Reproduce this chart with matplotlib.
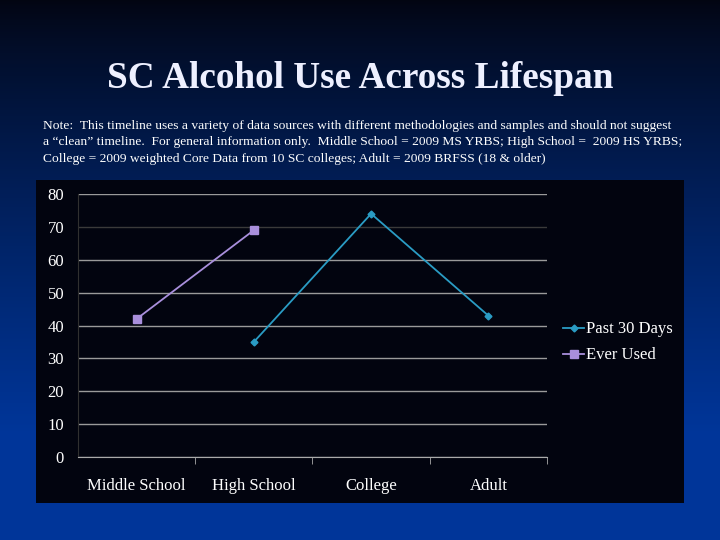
import numpy as np
import matplotlib.pyplot as plt
from matplotlib.patches import Rectangle

# data
categories = ['Middle School', 'High School', 'College', 'Adult']
past_30_days = [np.nan, 35, 74, 43]
ever_used = [42, 69, np.nan, np.nan]
y_ticks = [0, 10, 20, 30, 40, 50, 60, 70, 80]

title = 'SC Alcohol Use Across Lifespan'
note = ('Note:  This timeline uses a variety of data sources with different methodologies and samples and should not suggest\n'
        'a \u201cclean\u201d timeline.  For general information only.  Middle School = 2009 MS YRBS; High School =  2009 HS YRBS;\n'
        'College = 2009 weighted Core Data from 10 SC colleges; Adult = 2009 BRFSS (18 & older)')

serif = ['Liberation Serif', 'DejaVu Serif']
teal = '#2a9cc4'
lavender = '#a98fdc'

fig = plt.figure(figsize=(7.2, 5.4), dpi=100)

# slide background: dark navy at top fading to blue at bottom
bg = fig.add_axes([0, 0, 1, 1], zorder=-10)
t = np.linspace(0, 1, 256).reshape(-1, 1)
top = np.array([0.01, 0.02, 0.07])
bottom = np.array([0.0, 0.21, 0.60])
grad = top + (bottom - top) * np.clip(t * 1.25, 0, 1) ** 0.8
bg.imshow(grad.reshape(256, 1, 3), aspect='auto', extent=[0, 1, 0, 1])
bg.set_xlim(0, 1)
bg.set_ylim(0, 1)
bg.axis('off')

# black chart panel
fig.patches.append(Rectangle((0.05, 0.0685), 0.9, 0.598, transform=fig.transFigure,
                             facecolor='#02040f', edgecolor='none', zorder=-5))

fig.text(0.5, 0.855, title, ha='center', va='center', color='#eef0ff',
         fontsize=26.8, fontweight='bold', family=serif)
fig.text(0.06, 0.737, note, ha='left', va='center', color='white',
         fontsize=9.7, family=serif, linespacing=1.5)

ax = fig.add_axes([0.1083, 0.1537, 0.6514, 0.487])
ax.set_facecolor('none')
x = np.arange(len(categories))
ax.plot(x, past_30_days, color=teal, lw=1.3, marker='D', ms=3.5, label='Past 30 Days')
ax.plot(x, ever_used, color=lavender, lw=1.3, marker='s', ms=5.5, label='Ever Used')

ax.set_xlim(-0.5, 3.5)
ax.set_ylim(0, 80)
ax.set_yticks(y_ticks)
ax.set_xticks(x)
ax.set_xticklabels(categories)
ax.set_xticks([0.5, 1.5, 2.5, 3.5], minor=True)
ax.tick_params(axis='x', which='major', length=0, pad=15, labelcolor='white', labelsize=12)
ax.tick_params(axis='x', which='minor', length=5, color='#aaaaaa', direction='out')
ax.tick_params(axis='y', length=0, pad=10, labelcolor='white', labelsize=12)
for lab in ax.get_xticklabels() + ax.get_yticklabels():
    lab.set_family(serif)

ax.yaxis.grid(True, color='#9a9a9a', lw=1.0)
for val, gl in zip(y_ticks, ax.get_ygridlines()):
    if val == 70:
        gl.set_color('#3a3a3a')
ax.set_axisbelow(True)
for s in ['top', 'right']:
    ax.spines[s].set_visible(False)
ax.spines['left'].set_color('#303030')
ax.spines['bottom'].set_color('#aaaaaa')

leg = ax.legend(loc='center left', bbox_to_anchor=(1.0, 0.436), frameon=False,
                borderaxespad=0.55, handlelength=1.3, handletextpad=0.1, labelspacing=0.6,
                prop={'family': serif, 'size': 12})
for txt in leg.get_texts():
    txt.set_color('white')

fig.savefig('out.png', dpi=100)
